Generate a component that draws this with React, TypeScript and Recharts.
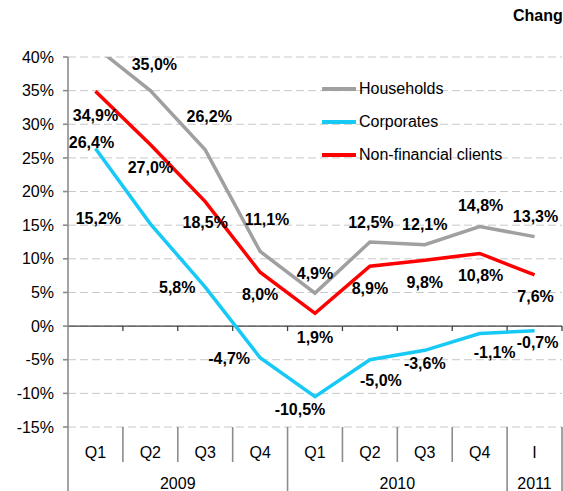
import React from 'react';
import { LineChart, Line, XAxis, YAxis, CartesianGrid, ReferenceLine, LabelList } from 'recharts';

const quarters = ['Q1', 'Q2', 'Q3', 'Q4', 'Q1', 'Q2', 'Q3', 'Q4', 'I'];
const years = ['2009', '2009', '2009', '2009', '2010', '2010', '2010', '2010', '2011'];
const households = [41.5, 35.0, 26.2, 11.1, 4.9, 12.5, 12.1, 14.8, 13.3];
const corporates = [26.4, 15.2, 5.8, -4.7, -10.5, -5.0, -3.6, -1.1, -0.7];
const nonFinancial = [34.9, 27.0, 18.5, 8.0, 1.9, 8.9, 9.8, 10.8, 7.6];
const yTicks = [-15, -10, -5, 0, 5, 10, 15, 20, 25, 30, 35, 40];

const data = quarters.map((q, i) => ({
  q,
  year: years[i],
  hh: households[i],
  corp: corporates[i],
  nfc: nonFinancial[i],
}));

const FONT = '"Liberation Sans", Arial, sans-serif';
const AXIS_GRAY = '#8c8c8c';
const PLOT_W = 494; // 563 - 68 (y axis) - 1 (right margin)
const HALF_BAND = PLOT_W / quarters.length / 2;

const series = [
  { key: 'hh', name: 'Households', color: '#a0a0a0' },
  { key: 'corp', name: 'Corporates', color: '#17c9f5' },
  { key: 'nfc', name: 'Non-financial clients', color: '#ff0000' },
];

// label nudges (dx, dy) per point, roughly where excel put them
const labelShift: Record<string, (number[] | null)[]> = {
  hh: [null, [4, -26], [4, -33], [7, -32], [0, -20], [1, -20], [0, -20], [1, -21], [1, -20]],
  corp: [[-4, -6], [-52, -5], [-28, 0], [-31, 1], [-15, 13], [11, 21], [0, 13], [15, 19], [3, 12]],
  nfc: [[0, 24], [0, 23], [0, 21], [0, 22], [0, 24], [0, 22], [0, 22], [1, 22], [1, 22]],
};

const fmt = (v: number) => v.toFixed(1).replace('.', ',') + '%';

const makeLabel = (key: string) => (props: any) => {
  const { x, y, value, index } = props;
  const shift = labelShift[key][index];
  if (!shift || value > 40) return null;
  return (
    <text
      x={x + shift[0]}
      y={y + shift[1]}
      textAnchor="middle"
      dominantBaseline="central"
      fontFamily={FONT}
      fontSize={16}
      fontWeight="bold"
      fill="#000"
    >
      {fmt(value)}
    </text>
  );
};

const ZeroAxis = (props: any) => {
  const x1 = props.x1 ?? props.points?.[0]?.x;
  const y1 = props.y1 ?? props.points?.[0]?.y;
  const x2 = props.x2 ?? props.points?.[1]?.x;
  const step = (x2 - x1) / quarters.length;
  return (
    <g>
      <line x1={x1} y1={y1} x2={x2} y2={y1} stroke="#404040" strokeWidth={1.3} />
      {quarters.map((_, i) => (
        <line key={i} x1={x1 + step * (i + 1)} x2={x1 + step * (i + 1)} y1={y1} y2={y1 + 5} stroke="#404040" strokeWidth={1.3} />
      ))}
    </g>
  );
};

const CategoryTick = (props: any) => {
  const { x, y, index } = props;
  const n = quarters.length;
  const half = HALF_BAND;
  const yearEnd = index === n - 1 || years[index] !== years[index + 1];
  const yearStart = index === 0 || years[index] !== years[index - 1];
  let count = 0;
  if (yearStart) {
    for (let j = index; j < n && years[j] === years[index]; j++) count++;
  }
  return (
    <g>
      {index === 0 && (
        <line x1={x - half} x2={x - half} y1={y} y2={y + 64} stroke={AXIS_GRAY} strokeWidth={1.6} />
      )}
      <line x1={x + half} x2={x + half} y1={y} y2={yearEnd ? y + 64 : y + 35} stroke={AXIS_GRAY} strokeWidth={1.6} />
      <text x={x} y={y + 25} textAnchor="middle" dominantBaseline="central" fontFamily={FONT} fontSize={16} fill="#000">
        {quarters[index]}
      </text>
      {yearStart && (
        <text x={x + (count - 1) * half} y={y + 56} textAnchor="middle" dominantBaseline="central" fontFamily={FONT} fontSize={16} fill="#000">
          {years[index]}
        </text>
      )}
    </g>
  );
};

export default function App() {
  return (
    <div style={{ position: 'absolute', left: 0, top: 0, width: 563, height: 491, overflow: 'hidden', background: '#fff' }}>
      <div
        style={{
          position: 'absolute', left: 513, top: 7, fontFamily: FONT, fontWeight: 'bold',
          fontSize: 16, whiteSpace: 'nowrap', color: '#000',
        }}
      >
        Chang
      </div>

      <LineChart width={563} height={491} data={data} margin={{ top: 57, right: 1, left: 0, bottom: 0 }}>
        <CartesianGrid vertical={false} stroke="#c8c8c8" strokeDasharray="8 4" />
        <XAxis
          dataKey="q"
          height={64}
          axisLine={false}
          tickLine={false}
          tickSize={0}
          tickMargin={0}
          interval={0}
          padding={{ left: HALF_BAND, right: HALF_BAND }}
          tick={<CategoryTick />}
        />
        <YAxis
          width={68}
          domain={[-15, 40]}
          ticks={yTicks}
          allowDataOverflow
          tickFormatter={(v: number) => `${v}%`}
          tick={{ fontSize: 16, fill: '#000', fontFamily: FONT }}
          tickSize={5}
          tickMargin={9}
          tickLine={{ stroke: AXIS_GRAY, strokeWidth: 1.6 }}
          axisLine={{ stroke: AXIS_GRAY, strokeWidth: 1.6 }}
        />
        <ReferenceLine y={0} shape={<ZeroAxis />} />
        {series.map((s) => (
          <Line
            key={s.key}
            dataKey={s.key}
            name={s.name}
            stroke={s.color}
            strokeWidth={3.5}
            dot={false}
            type="linear"
            isAnimationActive={false}
          >
            <LabelList dataKey={s.key} content={makeLabel(s.key)} />
          </Line>
        ))}
      </LineChart>

      <div style={{ position: 'absolute', left: 322, top: 72, fontFamily: FONT, fontSize: 16, color: '#000' }}>
        {series.map((s) => (
          <div key={s.key} style={{ display: 'flex', alignItems: 'center', height: 33 }}>
            <span style={{ display: 'inline-block', width: 34, height: 4, background: s.color, marginRight: 3 }} />
            <span style={{ whiteSpace: 'nowrap' }}>{s.name}</span>
          </div>
        ))}
      </div>
    </div>
  );
}
